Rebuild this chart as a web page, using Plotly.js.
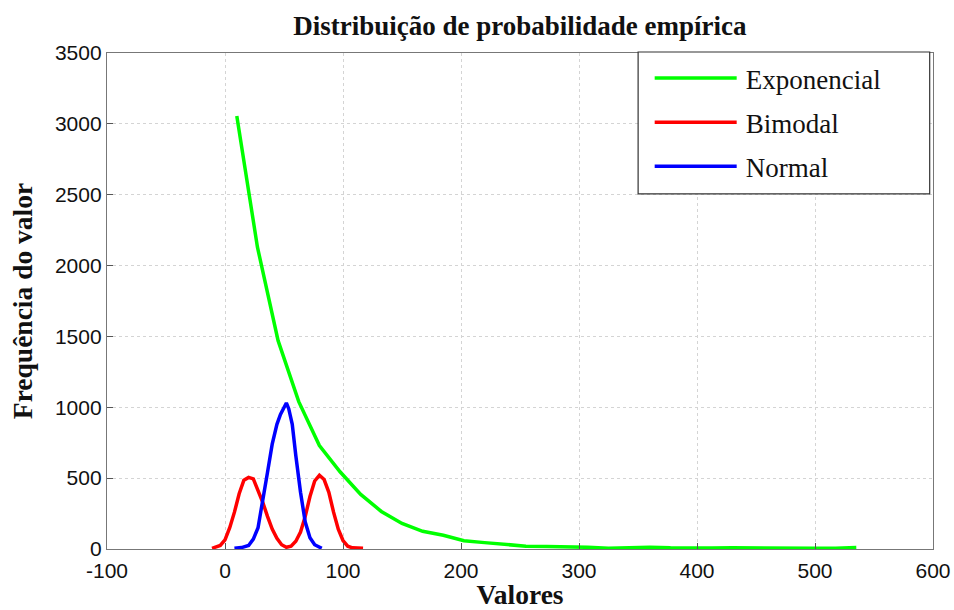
<!DOCTYPE html>
<html>
<head>
<meta charset="utf-8">
<script src="https://cdn.plot.ly/plotly-3.0.1.min.js"></script>
<style>
  html, body { margin: 0; padding: 0; background: #fff; }
  #chart { width: 954px; height: 610px; }
</style>
</head>
<body>
<div id="chart"></div>
<script>
// ---- Data ----
const expX = [10, 27.5, 45, 62.5, 80, 97.5, 115, 132.5, 150, 167.5, 185, 202.5, 220, 237.5, 255, 272.5, 290, 307.5, 325, 342.5, 360, 377.5, 395, 412.5, 430, 447.5, 465, 482.5, 500, 517.5, 535];
const expY = [3055, 2130, 1470, 1040, 730, 545, 385, 265, 180, 125, 97, 58, 45, 32, 20, 17, 16, 12, 6, 10, 12, 8, 5, 7, 8, 6, 5, 5, 6, 6, 10];

const bimX = [-11, -4, 0, 4, 8, 12, 16, 20, 24, 28, 32, 36, 40, 44, 48, 52, 56, 60, 64, 68, 72, 76, 80, 84, 88, 92, 96, 100, 104, 108, 112, 117];
const bimY = [5, 25, 64, 150, 260, 390, 485, 505, 495, 420, 330, 230, 140, 75, 30, 12, 20, 55, 120, 230, 370, 480, 520, 490, 400, 260, 140, 60, 20, 8, 5, 5];

const normX = [8, 14, 20, 24, 28, 32, 36, 40, 44, 47, 50, 52, 54, 57, 60, 64, 68, 72, 76, 82];
const normY = [5, 10, 25, 70, 150, 330, 540, 740, 880, 950, 1000, 1030, 990, 880, 660, 400, 190, 80, 30, 5];

const seriesNames = ["Exponencial", "Bimodal", "Normal"];
const xTicks = [-100, 0, 100, 200, 300, 400, 500, 600];
const yTicks = [0, 500, 1000, 1500, 2000, 2500, 3000, 3500];

const titleText = "Distribuição de probabilidade empírica";
const xTitle = "Valores";
const yTitle = "Frequência do valor";

// ---- Chart ----
const serif = "Liberation Serif, Times New Roman, serif";
const sans = "Liberation Sans, Arial, sans-serif";

const traces = [
  { x: expX, y: expY, name: seriesNames[0], legendgroup: "a", mode: "lines", line: { color: "#00ff00", width: 3.5 } },
  { x: bimX, y: bimY, name: seriesNames[1], legendgroup: "b", mode: "lines", line: { color: "#ff0000", width: 3.5 } },
  { x: normX, y: normY, name: seriesNames[2], legendgroup: "c", mode: "lines", line: { color: "#0000ff", width: 3.5 } }
];

const axisCommon = {
  showline: true, mirror: true, linecolor: "#777", linewidth: 1.2,
  showgrid: true, gridcolor: "#d4d4d4", griddash: "dot", gridwidth: 1,
  zeroline: false,
  ticks: "inside", ticklen: 6, tickcolor: "#555", tickwidth: 1,
  tickfont: { family: sans, size: 21, color: "#111" }
};

const layout = {
  width: 954, height: 610,
  margin: { l: 107, r: 21, t: 53, b: 61 },
  paper_bgcolor: "#fff", plot_bgcolor: "#fff",
  title: {
    text: "<b>" + titleText + "</b>",
    font: { family: serif, size: 27, color: "#111" },
    x: 0.545, xanchor: "center", y: 0.958, yanchor: "middle"
  },
  xaxis: Object.assign({}, axisCommon, {
    range: [-100, 600], tickvals: xTicks, ticktext: xTicks.map(String),
    ticklabelstandoff: 3,
    title: { text: "<b>" + xTitle + "</b>", font: { family: serif, size: 27.5, color: "#111" }, standoff: 3 },
    automargin: false
  }),
  yaxis: Object.assign({}, axisCommon, {
    range: [0, 3500], tickvals: yTicks, ticktext: yTicks.map(String),
    title: { text: "<b>" + yTitle + "</b>", font: { family: serif, size: 27.5, color: "#111" }, standoff: 14 },
    automargin: false
  }),
  showlegend: true,
  legend: {
    x: 0.657, xanchor: "left", y: 0.998, yanchor: "top",
    bgcolor: "rgba(0,0,0,0)", borderwidth: 0,
    font: { family: serif, size: 27, color: "#111" },
    itemwidth: 86, traceorder: "grouped", tracegroupgap: 6
  },
  shapes: [{
    type: "rect", xref: "paper", yref: "paper",
    x0: 0.643, x1: 0.996, y0: 0.716, y1: 1.002,
    line: { color: "#333", width: 1.2 }, fillcolor: "#fff", layer: "above"
  }]
};

Plotly.newPlot("chart", traces, layout, { displayModeBar: false, staticPlot: true }).then(function (gd) {
  // lengthen the legend line samples like the reference
  gd.querySelectorAll(".legend .legendlines path").forEach(function (p) {
    p.setAttribute("d", "M5,0h82");
  });
});
</script>
</body>
</html>
